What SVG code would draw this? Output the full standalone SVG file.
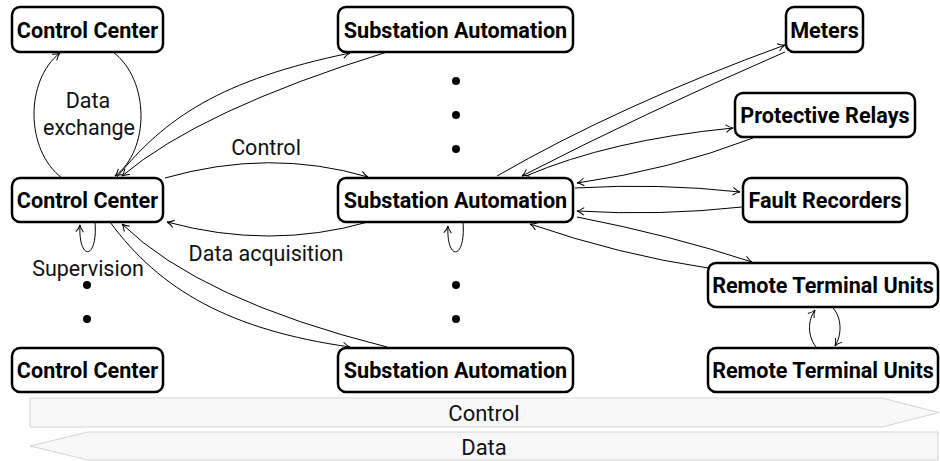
<svg xmlns="http://www.w3.org/2000/svg" width="940" height="461" viewBox="0 0 940 461">
<defs>
<marker id="arr" markerUnits="userSpaceOnUse" markerWidth="12" markerHeight="12" viewBox="-8 -6 10 12" refX="0" refY="0" orient="auto" overflow="visible">
<path d="M-7,-3.8 Q-3,-0.6 0,0 Q-3,0.6 -7,3.8" fill="none" stroke="#000" stroke-width="1"/>
</marker>
</defs>
<style>
.n rect{fill:#fff;stroke:#000;stroke-width:2.5}
.n text{font-family:Roboto,"Liberation Sans",sans-serif;font-weight:bold;font-size:21.6px;text-anchor:middle;dominant-baseline:central;fill:#000}
.e path{fill:none;stroke:#000;stroke-width:1}
.e .a{marker-end:url(#arr)}
.lbl{font-family:Roboto,"Liberation Sans",sans-serif;font-size:21.5px;text-anchor:middle;dominant-baseline:central;fill:#111}
.bl{font-size:22px}
.band{fill:#f8f8f8;stroke:#d4d4d4;stroke-width:1}
.dot{fill:#000}
</style>
<rect width="940" height="461" fill="#fff"/>
<g id="bands">
<polygon class="band" points="30,398 882,398 939,412.5 882,427 30,427"/>
<text class="lbl bl" x="484" y="413">Control</text>
<polygon class="band" points="88,432 938,432 938,460 88,460 30,446"/>
<text class="lbl bl" x="484" y="447">Data</text>
</g>
<g id="connectors" class="e">
<path class="a" d="M62,178 C25,150 25,80 60,53"/>
<path class="a" d="M113,52 C150,80 150,150 115,176"/>
<path class="a" d="M165,178 Q270,148 368,177"/>
<path class="a" d="M368,222 Q270,250 167,222"/>
<path class="a" d="M95,222 C98,261 78,261 80,225"/>
<path class="a" d="M463,222 C466,261 446,261 448,226"/>
<path class="a" d="M117,177 C165,118 220,80 350,53"/>
<path class="a" d="M387,52 Q200,110 122,176"/>
<path class="a" d="M110,222 C160,290 230,330 350,347"/>
<path class="a" d="M387,347 Q200,300 122,224"/>
<path class="a" d="M497,176 Q620,105 785,45"/>
<path class="a" d="M785,52 Q640,115 522,176"/>
<path class="a" d="M526,176 Q610,140 733,128"/>
<path class="a" d="M753,138 Q670,170 577,183"/>
<path class="a" d="M575,188 Q660,183 740,192"/>
<path class="a" d="M742,207 Q660,216 577,211"/>
<path class="a" d="M577,217 Q670,235 752,262"/>
<path class="a" d="M708,268 Q620,255 530,224"/>
<path class="a" d="M816,347 C807,335 808,320 815,310"/>
<path class="a" d="M833,308 C842,318 842,335 835,346"/>
</g>
<g id="dots">
<circle class="dot" cx="87" cy="285" r="4"/>
<circle class="dot" cx="87" cy="319" r="4"/>
<circle class="dot" cx="456" cy="81" r="4"/>
<circle class="dot" cx="456" cy="115" r="4"/>
<circle class="dot" cx="456" cy="149" r="4"/>
<circle class="dot" cx="456" cy="285" r="4"/>
<circle class="dot" cx="456" cy="319" r="4"/>
</g>
<g id="labels">
<text class="lbl" x="88" y="100">Data</text>
<text class="lbl" x="89" y="127">exchange</text>
<text class="lbl" x="266" y="147">Control</text>
<text class="lbl" x="266" y="253">Data acquisition</text>
<text class="lbl" x="88" y="268">Supervision</text>
</g>
<g id="cc1" class="n"><rect x="12" y="7" width="151" height="45" rx="8"/><text x="87.5" y="30">Control Center</text></g>
<g id="cc2" class="n"><rect x="12" y="178" width="151" height="44" rx="8"/><text x="87.5" y="200.5">Control Center</text></g>
<g id="cc3" class="n"><rect x="12" y="348" width="151" height="44" rx="8"/><text x="87.5" y="370.5">Control Center</text></g>
<g id="sa1" class="n"><rect x="338" y="7" width="235" height="45" rx="8"/><text x="455.5" y="30">Substation Automation</text></g>
<g id="sa2" class="n"><rect x="338" y="178" width="235" height="44" rx="8"/><text x="455.5" y="200.5">Substation Automation</text></g>
<g id="sa3" class="n"><rect x="338" y="348" width="235" height="44" rx="8"/><text x="455.5" y="370.5">Substation Automation</text></g>
<g id="meters" class="n"><rect x="786" y="7" width="77" height="45" rx="8"/><text x="824.5" y="30">Meters</text></g>
<g id="relays" class="n"><rect x="735" y="93" width="180" height="44" rx="8"/><text x="825" y="115.5">Protective Relays</text></g>
<g id="fault" class="n"><rect x="743" y="178" width="164" height="44" rx="8"/><text x="825" y="200.5">Fault Recorders</text></g>
<g id="rtu1" class="n"><rect x="708" y="263" width="230" height="44" rx="8"/><text x="823" y="285.5">Remote Terminal Units</text></g>
<g id="rtu2" class="n"><rect x="708" y="348" width="230" height="44" rx="8"/><text x="823" y="370.5">Remote Terminal Units</text></g>
</svg>
